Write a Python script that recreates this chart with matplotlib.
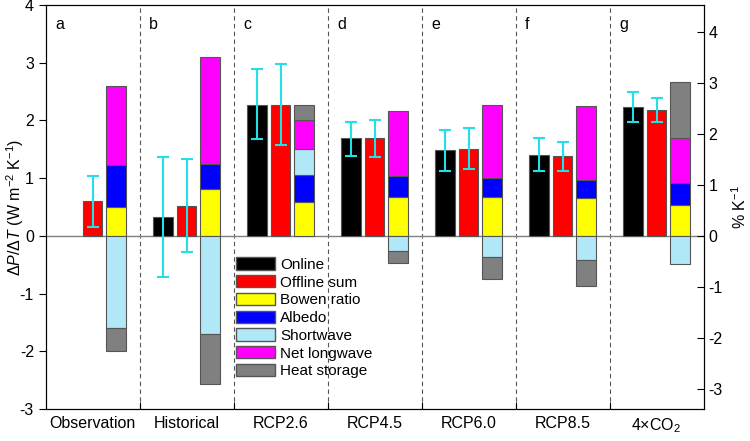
import numpy as np
import matplotlib
matplotlib.use('Agg')
import matplotlib.pyplot as plt
from matplotlib.patches import Patch

plt.rcParams['font.family'] = ['Liberation Sans', 'DejaVu Sans']
plt.rcParams['font.size'] = 11.5
plt.rcParams['axes.unicode_minus'] = False
plt.rcParams['mathtext.fontset'] = 'custom'
plt.rcParams['mathtext.rm'] = 'Liberation Sans'
plt.rcParams['mathtext.it'] = 'Liberation Sans:italic'

# === Dati ===
groups = ['Observation', 'Historical', 'RCP2.6', 'RCP4.5', 'RCP6.0', 'RCP8.5', '4×CO$_2$']
letters = ['a', 'b', 'c', 'd', 'e', 'f', 'g']

online = [np.nan, 0.33, 2.27, 1.69, 1.49, 1.40, 2.24]
online_lo = [np.nan, -0.71, 1.67, 1.39, 1.13, 1.12, 1.97]
online_hi = [np.nan, 1.37, 2.89, 1.98, 1.84, 1.69, 2.50]

offline = [0.60, 0.52, 2.27, 1.69, 1.51, 1.38, 2.18]
offline_lo = [0.16, -0.28, 1.58, 1.37, 1.15, 1.12, 1.97]
offline_hi = [1.04, 1.33, 2.97, 2.01, 1.87, 1.63, 2.39]

# componenti (ordine di impilamento)
bowen = [0.50, 0.81, 0.59, 0.68, 0.68, 0.65, 0.53]
albedo = [0.73, 0.44, 0.46, 0.35, 0.33, 0.32, 0.38]
shortwave = [-1.60, -1.70, 0.46, -0.27, -0.37, -0.42, -0.49]
longwave = [1.36, 1.85, 0.50, 1.14, 1.26, 1.28, 0.78]
heat = [-0.39, -0.87, 0.26, -0.20, -0.38, -0.45, 0.98]

components = [
    ('Bowen ratio', bowen, '#ffff00'),
    ('Albedo', albedo, '#0000ff'),
    ('Shortwave', shortwave, '#b0e8f8'),
    ('Net longwave', longwave, '#ff00ff'),
    ('Heat storage', heat, '#808080'),
]

ratio = 57.7 / 51.0  # scala asse destro (% K-1)

# === Plot ===
fig = plt.figure(figsize=(7.5, 4.41), dpi=100)
ax = fig.add_axes([0.061, 0.0726, 0.877, 0.916])

n = len(groups)
centers = np.arange(n) + 0.5
w = 0.207
off = 0.25
edge = '#555555'
ecol = '#22e0e8'

ax.axhline(0, color='#808080', lw=1.0, zorder=1)
for b in range(1, n):
    ax.axvline(b, color='#555555', lw=0.8, ls=(0, (4, 3)), zorder=0)

ax.bar(centers - off, online, w, color='black', edgecolor=edge, lw=0.8, zorder=2)
ax.bar(centers, offline, w, color='red', edgecolor=edge, lw=0.8, zorder=2)

on = np.array(online)
ax.errorbar(centers - off, on, yerr=[on - np.array(online_lo), np.array(online_hi) - on],
            fmt='none', ecolor=ecol, elinewidth=1.5, capsize=4.5, capthick=1.5, zorder=3)
of = np.array(offline)
ax.errorbar(centers, of, yerr=[of - np.array(offline_lo), np.array(offline_hi) - of],
            fmt='none', ecolor=ecol, elinewidth=1.5, capsize=4.5, capthick=1.5, zorder=3)

pos_bottom = np.zeros(n)
neg_bottom = np.zeros(n)
for name, vals, col in components:
    vals = np.array(vals)
    bottoms = np.where(vals >= 0, pos_bottom, neg_bottom)
    ax.bar(centers + off, vals, w, bottom=bottoms, color=col, edgecolor=edge, lw=0.8, zorder=2)
    pos_bottom = pos_bottom + np.where(vals >= 0, vals, 0)
    neg_bottom = neg_bottom + np.where(vals < 0, vals, 0)

for i, let in enumerate(letters):
    ax.text(i + 0.1, 3.67, let, va='center', ha='left', fontsize=11.5)

ax.set_xlim(0, n)
ax.set_ylim(-3, 4)
ax.set_yticks(range(-3, 5))
ax.set_xticks(range(1, n))
ax.set_xticklabels([])
ax.set_xticks(centers, minor=True)
ax.set_xticklabels(groups, minor=True)
ax.tick_params(axis='x', which='major', direction='in', length=5)
ax.tick_params(axis='x', which='minor', length=0, pad=5)
ax.tick_params(axis='y', direction='out', length=5)
ax.set_ylabel(r'$\Delta\mathit{P}/\Delta\mathit{T}$ (W m$^{-2}$ K$^{-1}$)')
ax.yaxis.set_label_coords(-0.03, 0.5)

ax2 = ax.twinx()
ax2.set_ylim(-3 * ratio, 4 * ratio)
ax2.set_yticks(range(-3, 5))
ax2.tick_params(axis='y', direction='in', length=5)
ax2.set_ylabel('% K$^{-1}$')
ax2.yaxis.set_label_coords(1.04, 0.5)

handles = [Patch(facecolor='black', edgecolor=edge, label='Online'),
           Patch(facecolor='red', edgecolor=edge, label='Offline sum')]
handles += [Patch(facecolor=c, edgecolor=edge, label=nm) for nm, _, c in components]
ax.legend(handles=handles, loc='upper left', bbox_to_anchor=(0.29, 0.375), frameon=False,
          borderaxespad=0, borderpad=0, handlelength=2.55, handleheight=0.85,
          labelspacing=0.22, handletextpad=0.3, fontsize=11)

fig.savefig('out.png', dpi=100)
